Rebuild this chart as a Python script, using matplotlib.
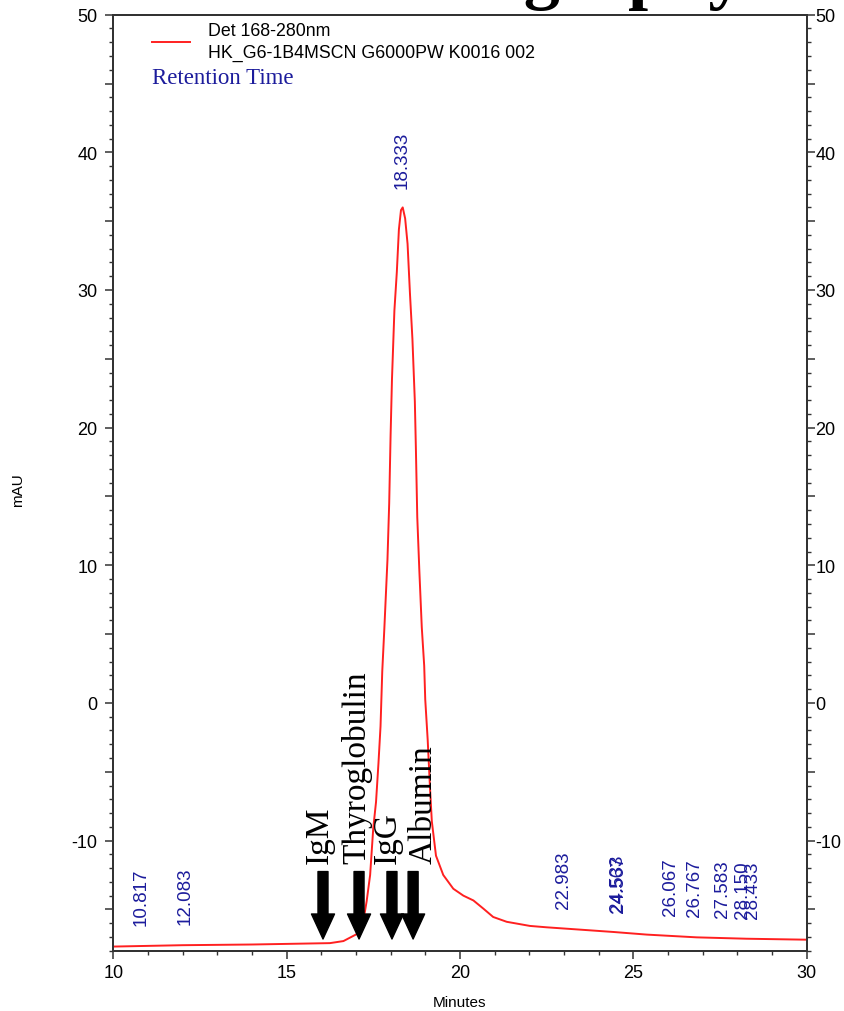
import numpy as np
import matplotlib
matplotlib.use("Agg")
import matplotlib.pyplot as plt
from matplotlib.ticker import MultipleLocator, FuncFormatter

# ---------------- data ----------------
time_min = [10.0, 12.0, 14.0, 16.25, 16.64, 17.02, 17.21, 17.31, 17.41, 17.50,
            17.58, 17.65, 17.71, 17.76, 17.82, 17.91, 17.96, 18.00, 18.04, 18.11,
            18.18, 18.24, 18.30, 18.35, 18.42, 18.49, 18.56, 18.63, 18.70, 18.73,
            18.77, 18.83, 18.90, 18.97, 19.00, 19.07, 19.14, 19.19, 19.31, 19.52,
            19.81, 20.10, 20.39, 20.68, 20.96, 21.35, 22.02, 22.50, 23.47, 24.43,
            25.39, 26.83, 28.27, 30.0]
absorbance_mau = [-17.7, -17.6, -17.55, -17.45, -17.3, -16.8, -15.9, -14.4, -12.5, -9.1,
                  -7.2, -4.4, -1.7, 2.3, 5.4, 10.4, 14.5, 19.4, 23.5, 28.5,
                  31.3, 34.4, 35.8, 36.0, 35.2, 33.35, 29.7, 26.45, 21.9, 18.5,
                  13.5, 9.6, 5.5, 2.7, 0.25, -2.65, -6.3, -8.6, -11.1, -12.5,
                  -13.5, -14.0, -14.35, -14.95, -15.55, -15.9, -16.2, -16.3, -16.47, -16.64,
                  -16.83, -17.03, -17.13, -17.2]

rt_labels = ["10.817", "12.083", "18.333", "22.983", "24.533", "24.567",
             "26.067", "26.767", "27.583", "28.150", "28.433"]
rt_values = [10.817, 12.083, 18.333, 22.983, 24.533, 24.567,
             26.067, 26.767, 27.583, 28.150, 28.433]

marker_names = ["IgM", "Thyroglobulin", "IgG", "Albumin"]
marker_times = [16.05, 17.09, 18.04, 18.65]

legend_title = "Det 168-280nm"
legend_sample = "HK_G6-1B4MSCN G6000PW K0016 002"
annot_title = "Retention Time"
page_title = "Chromatography"
x_label = "Minutes"
y_label = "mAU"

# ---------------- figure ----------------
W, H = 844, 1012
fig = plt.figure(figsize=(W / 100, H / 100), dpi=100)
fig.patch.set_facecolor("white")

def fx(px):
    return px / W

def fy(py):
    return 1 - py / H

left, right, top, bottom = 113.3, 806.5, 15.7, 951.7
ax = fig.add_axes([fx(left), fy(bottom), fx(right - left), (bottom - top) / H])
ax.set_xlim(10, 30)
ax.set_ylim(-18, 50)

navy = "#1c1c9c"
sans = ["Liberation Sans", "DejaVu Sans"]
serif = ["Liberation Serif", "DejaVu Serif"]
axis_col = "#333333"

ax.plot(time_min, absorbance_mau, color="#ff2020", lw=1.4, zorder=3)

# retention time labels
for lab, rt in zip(rt_labels, rt_values):
    yv = np.interp(rt, time_min, absorbance_mau)
    ax.annotate(lab, xy=(rt, yv), xytext=(0, 15), textcoords="offset points",
                rotation=90, ha="center", va="bottom", color=navy,
                fontsize=13.5, family=sans, zorder=4)

# marker arrows and names (label shift relative to arrow, in minutes)
label_shift = [-0.09, -0.06, -0.12, 0.29]
for name, t, dx in zip(marker_names, marker_times, label_shift):
    ax.annotate("", xy=(t, -17.15), xytext=(t, -12.25),
                arrowprops=dict(arrowstyle="simple,head_length=1.8,head_width=1.66,tail_width=0.72",
                                mutation_scale=10, color="black", shrinkA=0, shrinkB=0),
                zorder=5)
    ax.text(t + dx, -11.65, name, rotation=90, ha="center", va="bottom",
            fontsize=24, family=serif, color="black", zorder=5)

# axes styling
for s in ax.spines.values():
    s.set_color(axis_col)
    s.set_linewidth(1.4)

ylab_fmt = FuncFormatter(lambda v, p: f"{int(round(v))}" if abs(v) % 10 < 1e-6 else "")

ax.xaxis.set_major_locator(MultipleLocator(5))
ax.xaxis.set_minor_locator(MultipleLocator(1))
ax.yaxis.set_major_locator(MultipleLocator(5))
ax.yaxis.set_minor_locator(MultipleLocator(1))
ax.yaxis.set_major_formatter(ylab_fmt)
ax.tick_params(axis="both", which="major", direction="out", length=5.5, width=1.1,
               color=axis_col, labelsize=13)
ax.tick_params(axis="both", which="minor", direction="out", length=3, width=1.0, color=axis_col)
ax.tick_params(axis="y", which="both", left=True, right=False, labelleft=True, labelright=False)
ax.tick_params(axis="y", which="major", pad=6)
ax.tick_params(axis="x", which="both", top=False, pad=4)
for lbl in ax.get_xticklabels() + ax.get_yticklabels():
    lbl.set_family(sans)

# right-hand axis (same scale, labels close to the ticks)
ax2 = ax.twinx()
ax2.set_ylim(ax.get_ylim())
ax2.yaxis.set_major_locator(MultipleLocator(5))
ax2.yaxis.set_minor_locator(MultipleLocator(1))
ax2.yaxis.set_major_formatter(ylab_fmt)
ax2.tick_params(axis="y", which="major", direction="out", length=5.5, width=1.1,
                color=axis_col, labelsize=13, pad=1)
ax2.tick_params(axis="y", which="minor", direction="out", length=3, width=1.0, color=axis_col)
for s in ax2.spines.values():
    s.set_color(axis_col)
    s.set_linewidth(1.4)
for lbl in ax2.get_yticklabels():
    lbl.set_family(sans)

ax.set_xlabel(x_label, fontsize=11, family=sans)
ax.xaxis.set_label_coords(0.5, -0.047)
fig.text(fx(18), fy(490), y_label, rotation=90, ha="center", va="center",
         fontsize=11, family=sans)

# legend block
fig.lines.append(plt.Line2D([fx(152), fx(190)], [fy(43), fy(43)],
                            transform=fig.transFigure, color="#ff2020", lw=1.4))
fig.text(fx(208), fy(31), legend_title, ha="left", va="center", fontsize=12.8, family=sans)
fig.text(fx(208), fy(53), legend_sample, ha="left", va="center", fontsize=12.8, family=sans)
fig.text(fx(152), fy(78), annot_title, ha="left", va="center", fontsize=16.5,
         family=serif, color=navy)

# page title cut off by the top edge, only its descenders show
fig.text(fx(745), fy(-4), page_title, ha="right", va="baseline", fontsize=52,
         family=serif, fontweight="bold", color="black")

fig.savefig("out.png", dpi=100, facecolor="white")
